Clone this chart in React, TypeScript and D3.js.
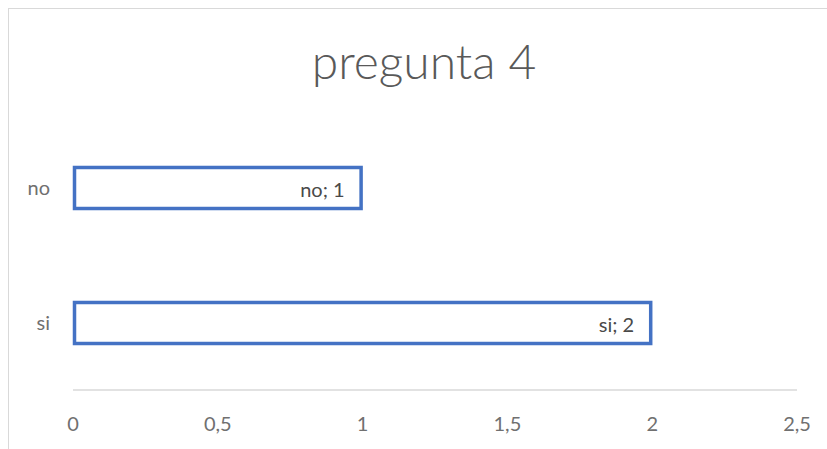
import React from "react";
import * as d3 from "d3";

const categories = ["no", "si"];
const values = [1, 2];
const xTicks = [0, 0.5, 1, 1.5, 2, 2.5];
const tickLabels = ["0", "0,5", "1", "1,5", "2", "2,5"];
const title = "pregunta 4";

export default function App() {
  const W = 819;
  const H = 441;
  const font = "Lato, 'Noto Sans', sans-serif";
  const x = d3.scaleLinear().domain([0, 2.5]).range([73, 797]);
  const y = d3
    .scaleBand<string>()
    .domain(categories)
    .range([120.5, 390.5])
    .paddingInner(0.674)
    .paddingOuter(0.337);
  const bw = y.bandwidth();
  return (
    <svg
      width={W}
      height={H}
      style={{ position: "absolute", left: 8, top: 8, display: "block" }}
    >
      <g transform="translate(-8,-8)">
        <rect x={8} y={8} width={900} height={500} fill="#fff" />
        <line x1={8.5} y1={8} x2={8.5} y2={460} stroke="#D9D9D9" strokeWidth={1} />
        <line x1={8} y1={8.5} x2={900} y2={8.5} stroke="#D9D9D9" strokeWidth={1} />
        <text
          x={424}
          y={79}
          textAnchor="middle"
          fontFamily={font}
          fontWeight={300}
          fontSize={48}
          fill="#595959"
        >
          {title}
        </text>
        <line x1={x(0)} x2={x(2.5)} y1={390} y2={390} stroke="#D9D9D9" strokeWidth={1.3} />
        {xTicks.map((t, i) => (
          <text
            key={t}
            x={x(t)}
            y={431}
            textAnchor="middle"
            fontFamily={font}
            fontSize={20}
            fill="#707070"
          >
            {tickLabels[i]}
          </text>
        ))}
        {categories.map((c, i) => {
          const y0 = y(c)!;
          return (
            <g key={c}>
              <rect
                x={x(0) + 1.5}
                y={y0 + 1.5}
                width={x(values[i]) - x(0) - 3}
                height={bw - 3}
                fill="#fff"
                stroke="#4472C4"
                strokeWidth={3.5}
              />
              <text
                x={50}
                y={y0 + bw / 2 + 7}
                textAnchor="end"
                fontFamily={font}
                fontSize={20}
                fill="#707070"
              >
                {c}
              </text>
              <text
                x={x(values[i]) - 18}
                y={y0 + bw / 2 + 9}
                textAnchor="end"
                fontFamily={font}
                fontSize={20}
                fill="#4A4A4A"
              >
                {`${c}; ${values[i]}`}
              </text>
            </g>
          );
        })}
      </g>
    </svg>
  );
}
